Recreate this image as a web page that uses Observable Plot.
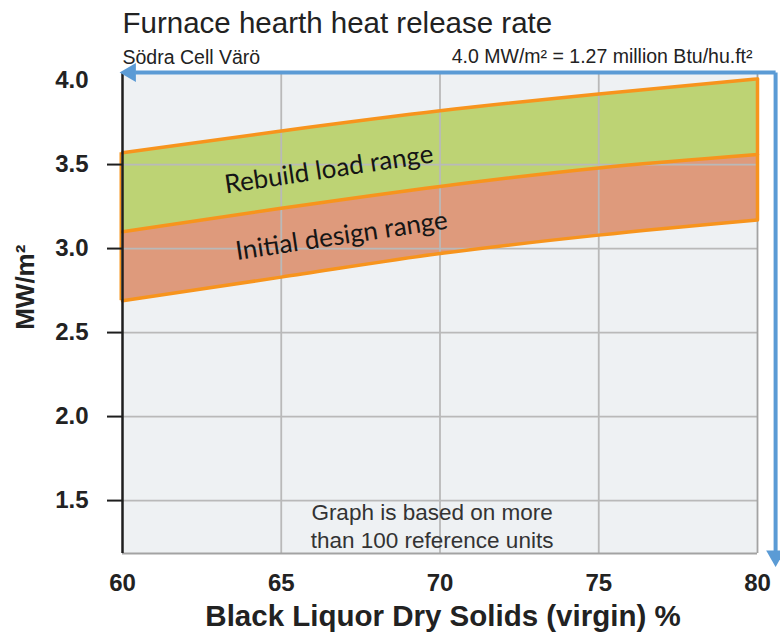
<!DOCTYPE html>
<html>
<head>
<meta charset="utf-8">
<script src="https://cdn.jsdelivr.net/npm/d3@7"></script>
<script src="https://cdn.jsdelivr.net/npm/@observablehq/plot@0.6"></script>
<style>
  html, body { margin: 0; padding: 0; background: #fff; }
  #chart svg g[aria-label="x-axis tick label"] text { font-weight: bold; }
</style>
</head>
<body>
<div id="chart"></div>
<script>
// ---- data ----
const dryerSolids = [60, 65, 70, 75, 80];            // Black liquor dry solids (virgin) %
const rebuildTop  = [3.57, 3.70, 3.82, 3.92, 4.01];  // upper edge of rebuild load range
const boundary    = [3.10, 3.24, 3.37, 3.48, 3.56];  // rebuild / initial design boundary
const designLow   = [2.69, 2.83, 2.97, 3.08, 3.17];  // lower edge of initial design range

const xTicks = [60, 65, 70, 75, 80];
const yTicks = [1.5, 2.0, 2.5, 3.0, 3.5, 4.0];
const yTickMarks = [1.5, 2.0, 2.5, 3.0, 3.5];
const xGrid = [65, 70, 75];
const yGrid = [1.5, 2.0, 2.5, 3.0, 3.5];

const titleText = "Furnace hearth heat release rate";
const subtitleText = "Södra Cell Värö";
const conversionText = "4.0 MW/m² = 1.27 million Btu/hu.ft²";
const xTitle = "Black Liquor Dry Solids (virgin) %";
const yTitle = "MW/m²";
const noteText = "Graph is based on more\nthan 100 reference units";

const bandLabels = [
  {x: 66.5, y: 3.47, text: "Rebuild load range"},
  {x: 66.9, y: 3.075, text: "Initial design range"}
];
const notePos = [{x: 69.75, y: 1.355, text: noteText}];
const yTitlePos = [{x: 56.94, y: 2.77, text: yTitle}];
const yTickLabelX = 58.93; // label column just left of the axis

// blue arrow annotation (corner -> left, corner -> down)
const arrowSegs = [
  {x1: 80.57, y1: 4.048, x2: 60.4, y2: 4.048},
  {x1: 80.57, y1: 4.048, x2: 80.57, y2: 1.20}
];
const arrowHeads = [
  {x: 60.25, y: 4.048, rot: -90},
  {x: 80.57, y: 1.17, rot: 180}
];

const yDomain = [1.185, 4.042];

const rows = dryerSolids.map((x, i) => ({x, top: rebuildTop[i], mid: boundary[i], bot: designLow[i]}));
const last = rows[rows.length - 1];
const first = rows[0];

const ORANGE = "#f7941d";
const GRID = "#b9b9b9";
const BLUE = "#5b9bd5";
const curve = "monotone-x";

const chart = Plot.plot({
  width: 780,
  height: 632,
  marginLeft: 122,
  marginRight: 23,
  marginTop: 73,
  marginBottom: 79,
  style: {fontFamily: "'Liberation Sans', Arial, sans-serif", color: "#222", background: "#fff"},
  x: {domain: [60, 80], label: null},
  y: {domain: yDomain, label: null},
  marks: [
    Plot.frame({fill: "#eef1f3", stroke: null}),
    Plot.areaY(rows, {x: "x", y1: "bot", y2: "mid", fill: "#de9a7c", curve}),
    Plot.areaY(rows, {x: "x", y1: "mid", y2: "top", fill: "#bdd374", curve}),
    Plot.ruleX(xGrid, {stroke: GRID, strokeWidth: 1.8}),
    Plot.ruleY(yGrid, {stroke: GRID, strokeWidth: 1.8}),
    Plot.ruleX([80], {stroke: "#a3a3a3", strokeWidth: 1.8}),
    Plot.ruleY([yDomain[0]], {stroke: "#a3a3a3", strokeWidth: 1.8}),
    Plot.line(rows, {x: "x", y: "top", stroke: ORANGE, strokeWidth: 3.5, curve}),
    Plot.line(rows, {x: "x", y: "mid", stroke: ORANGE, strokeWidth: 3.5, curve}),
    Plot.line(rows, {x: "x", y: "bot", stroke: ORANGE, strokeWidth: 3.5, curve}),
    Plot.ruleX([last], {x: "x", y1: "bot", y2: "top", stroke: ORANGE, strokeWidth: 3.5}),
    Plot.ruleX([first], {x: "x", y1: "bot", y2: "top", stroke: ORANGE, strokeWidth: 2, dx: -2}),
    Plot.ruleX([60], {stroke: "#1e1e1e", strokeWidth: 2.5}),
    Plot.axisY({ticks: yTickMarks, tickSize: 15, tickFormat: () => "", stroke: "#1e1e1e", strokeWidth: 2}),
    Plot.text(yTicks, {x: () => yTickLabelX, y: d => d, text: d => d.toFixed(1), textAnchor: "end", lineAnchor: "middle", fontSize: 24, fontWeight: "bold", fill: "#222"}),
    Plot.axisX({ticks: xTicks, tickSize: 0, tickPadding: 20, fontSize: 24, fill: "#222"}),
    Plot.text(bandLabels, {x: "x", y: "y", text: "text", rotate: -8.5, fontSize: 26, fontFamily: "Lato, 'Open Sans', sans-serif", fill: "#151515"}),
    Plot.text(notePos, {x: "x", y: "y", text: "text", fontSize: 22.5, lineHeight: 1.25, fill: "#333"}),
    Plot.link(arrowSegs, {x1: "x1", y1: "y1", x2: "x2", y2: "y2", stroke: BLUE, strokeWidth: 4}),
    Plot.dot(arrowHeads, {x: "x", y: "y", symbol: "triangle", r: 7, fill: BLUE, rotate: "rot"}),
    Plot.text([titleText], {frameAnchor: "top-left", textAnchor: "start", lineAnchor: "middle", dy: -50, fontSize: 29.5, fill: "#222"}),
    Plot.text([subtitleText], {frameAnchor: "top-left", textAnchor: "start", lineAnchor: "middle", dy: -16, fontSize: 19.5, fill: "#222"}),
    Plot.text([conversionText], {frameAnchor: "top-right", textAnchor: "end", lineAnchor: "middle", dx: -5, dy: -17, fontSize: 19.5, fill: "#222"}),
    Plot.text([xTitle], {frameAnchor: "bottom", textAnchor: "middle", lineAnchor: "middle", dx: 3, dy: 63, fontSize: 29.5, fontWeight: "bold", fill: "#222"}),
    Plot.text(yTitlePos, {x: "x", y: "y", text: "text", textAnchor: "middle", lineAnchor: "middle", rotate: -90, fontSize: 26, fontWeight: "bold", fill: "#222"})
  ]
});
document.getElementById("chart").appendChild(chart);
</script>
</body>
</html>
